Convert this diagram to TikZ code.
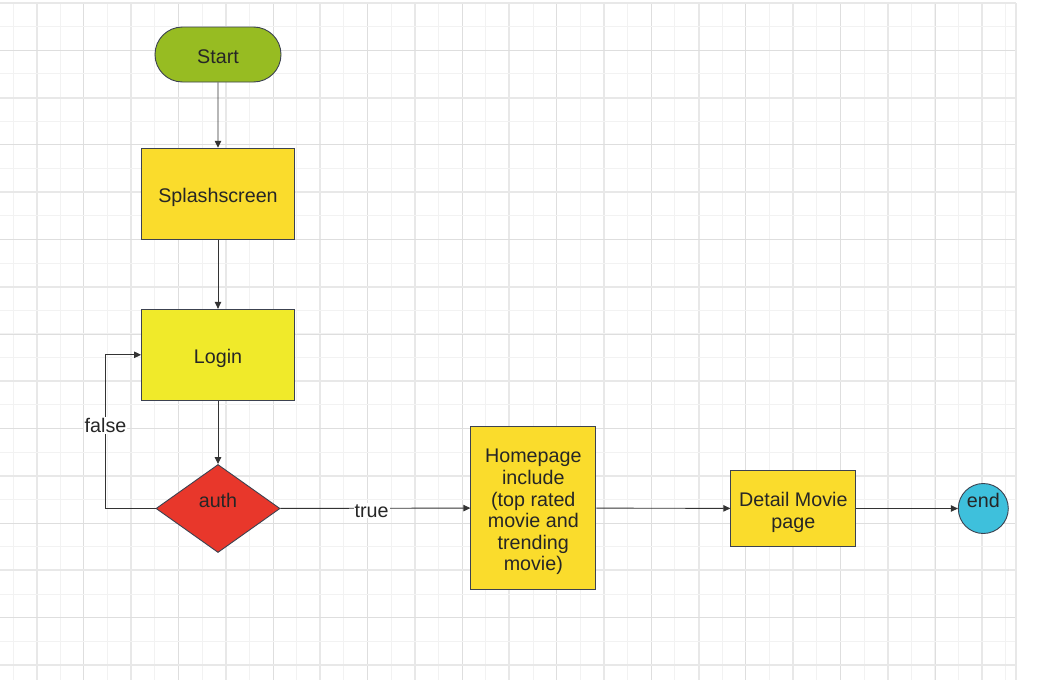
\documentclass[tikz,border=0pt]{standalone}
\usepackage{fontspec}
\setmainfont{Liberation Sans}
\usetikzlibrary{arrows.meta,shapes.geometric,shapes.misc}

% palette
\definecolor{gridlight}{HTML}{F2F2F2}
\definecolor{gridmid}{HTML}{DEDEDE}
\definecolor{gridmajor}{HTML}{E8E8E8}
\definecolor{startgreen}{HTML}{97BC22}
\definecolor{boxyellow}{HTML}{FADC2C}
\definecolor{loginyellow}{HTML}{F0EA2A}
\definecolor{authred}{HTML}{E8372B}
\definecolor{endblue}{HTML}{3EC0DC}
\definecolor{edgecol}{HTML}{333333}
\definecolor{bordercol}{HTML}{3C4250}
\definecolor{textcol}{HTML}{262626}

% zero-width strut that sets a text block a little lower in its box
\newcommand\boxstrut{\rule{0pt}{22pt}}

\tikzset{
  base/.style={draw=bordercol, line width=0.9pt, text=textcol, inner sep=0pt,
    font=\fontsize{19.7}{21.6}\selectfont, align=center},
  lowered/.style={execute at begin node={\rule{0pt}{#1}}},
  terminal/.style={base, rounded rectangle, fill=startgreen,
    minimum width=126, minimum height=55, lowered=18pt},
  process/.style={base, rectangle, fill=boxyellow},
  decision/.style={base, diamond, fill=authred, aspect=1.41,
    minimum width=124, minimum height=88, text depth=16pt},
  stopnode/.style={base, circle, fill=endblue, minimum size=50, text depth=16pt},
  flow/.style={draw=edgecol, line width=0.9pt,
    -{Triangle[length=7pt,width=6.5pt]}},
  edgelabel/.style={fill=white, inner sep=1pt, text=textcol,
    font=\fontsize{19.7}{21.6}\selectfont}
}

\begin{document}
\begin{tikzpicture}[x=1pt, y=-1pt]
\useasboundingbox (0,0) rectangle (1046,680);
\fill[white] (0,0) rectangle (1046,680);

% background grid
\foreach \k in {0,...,42}
  \draw[gridlight, line width=1pt] ({13+23.64*\k},3) -- ({13+23.64*\k},680);
\foreach \k in {3,7,...,39}
  \draw[gridmid, line width=0.9pt] ({13+23.64*\k},3) -- ({13+23.64*\k},680);
\foreach \k in {1,5,...,41}
  \draw[gridmajor, line width=2pt] ({13+23.64*\k},3) -- ({13+23.64*\k},680);
\foreach \k in {0,...,28}
  \draw[gridlight, line width=1pt] (0,{3+23.64*\k}) -- (1016,{3+23.64*\k});
\foreach \k in {2,6,...,26}
  \draw[gridmid, line width=0.9pt] (0,{3+23.64*\k}) -- (1016,{3+23.64*\k});
\foreach \k in {0,4,...,28}
  \draw[gridmajor, line width=2pt] (0,{3+23.64*\k}) -- (1016,{3+23.64*\k});
\draw[gridmajor, line width=1.5pt] (1016,3) -- (1016,680);

% flowchart nodes
\node[terminal] (start) at (218,54.5) {Start};
\node[process, lowered=22pt, minimum width=153, minimum height=91] (splash) at (218,193.7) {Splashscreen};
\node[process, lowered=22pt, fill=loginyellow, minimum width=153, minimum height=91] (login) at (218,354.8) {Login};
\node[decision] (auth) at (218,508.5) {auth};
\node[process, minimum width=125, minimum height=162.5] (home) at (533.3,508) {\boxstrut Homepage\\include\\(top rated\\movie and\\trending\\movie)};
\node[process, minimum width=125, minimum height=75.5] (detail) at (793.3,508.5) {\boxstrut Detail Movie\\page};
\node[stopnode] (end) at (983.3,508.5) {end};

% connectors
\draw[flow] (start) -- (splash);
\draw[flow] (splash) -- (login);
\draw[flow] (login) -- (auth);
\draw[flow] (auth.west) -- ++(-50,0) |- node[edgelabel, pos=0.27] {false} (login.west);
\draw[flow] (auth) -- node[edgelabel, pos=0.48, yshift=-2.5pt] {true} (home);
\draw[flow] (home) -- (detail);
\draw[flow] (detail) -- (end);
\end{tikzpicture}
\end{document}
